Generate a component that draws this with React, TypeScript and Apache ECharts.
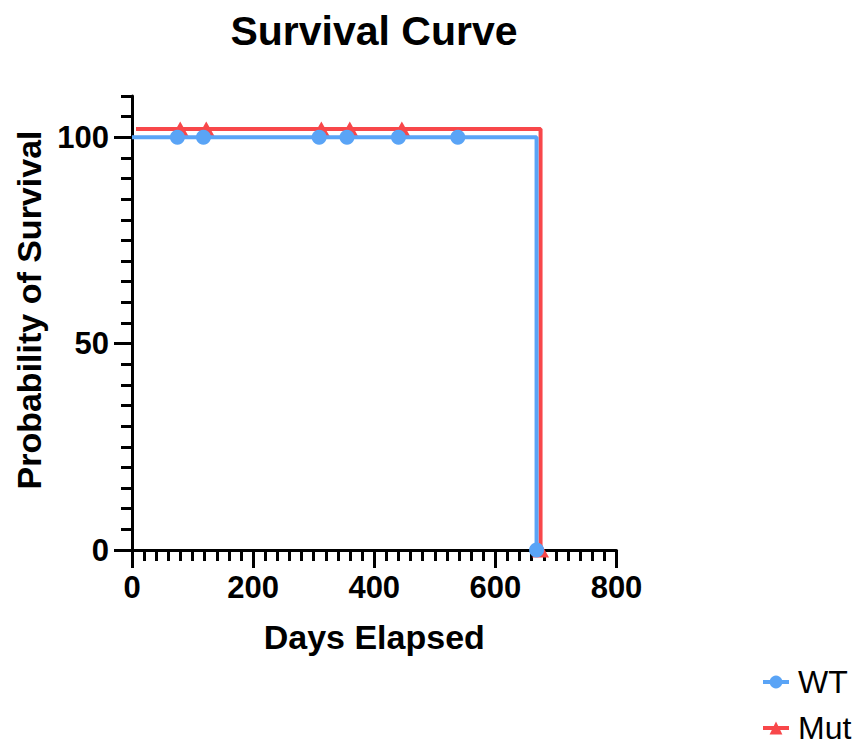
import React, { useEffect, useRef } from "react";
import * as echarts from "echarts";

const title = "Survival Curve";
const xName = "Days Elapsed";
const yName = "Probability of Survival";
const seriesNames = ["WT", "Mut"];

// WT: days with censor marks at 100%, then drop to 0 at last day
const wtCensorDays = [75, 118, 309, 355, 440, 538];
const wtEventDay = 668;
// Mut: censor marks (drawn with Prism-style offset)
const mutCensorDays = [73, 116, 306, 353, 439];
const mutEventDay = 668;

const startSurvival = 100;
const endSurvival = 0;

const xTicks = [0, 200, 400, 600, 800];
const yTickLabels = [0, 50, 100];
const yMax = 110;

const FONT = "'Liberation Sans', Arial, Helvetica, sans-serif";
const BLUE = "#5aa4f6";
const RED = "#f8474a";

function buildCurve(censor: number[], eventDay: number) {
  const pts: any[] = [{ value: [0, startSurvival], symbol: "none" }];
  censor.forEach((d) => pts.push({ value: [d, startSurvival] }));
  pts.push({ value: [eventDay, endSurvival] });
  return pts;
}

export default function App() {
  const ref = useRef<HTMLDivElement>(null);
  useEffect(() => {
    if (!ref.current) return;
    const chart = echarts.init(ref.current, null, { renderer: "svg" });
    const axisLineStyle = { color: "#000", width: 3 };
    chart.setOption({
      animation: false,
      backgroundColor: "#fff",
      title: {
        text: title,
        left: 369,
        top: 5,
        textAlign: "center",
        textStyle: { fontFamily: FONT, fontWeight: "bold", fontSize: 41, color: "#000" },
      },
      legend: {
        orient: "vertical",
        left: 761,
        top: 666,
        height: 120,
        padding: 0,
        itemWidth: 26,
        itemHeight: 16,
        itemGap: 14,
        data: seriesNames,
        lineStyle: { width: 4 },
        textStyle: { fontFamily: FONT, fontSize: 32, lineHeight: 32, color: "#000", padding: [0, 0, 0, 4] },
      },
      grid: [
        { left: 132, right: 245.5, top: 96, bottom: 196 },
        { left: 136, right: 241.5, top: 87, bottom: 196 },
      ],
      xAxis: [
        {
          type: "value",
          gridIndex: 0,
          min: xTicks[0],
          max: xTicks[xTicks.length - 1],
          interval: 200,
          name: xName,
          nameLocation: "middle",
          nameGap: 70,
          nameTextStyle: { fontFamily: FONT, fontWeight: "bold", fontSize: 34, color: "#000" },
          axisLine: { show: true, lineStyle: axisLineStyle },
          axisTick: { show: true, length: 18, lineStyle: { color: "#000", width: 3 } },
          minorTick: { show: true, splitNumber: 10, length: 11, lineStyle: { color: "#000", width: 3 } },
          axisLabel: { margin: 22, fontFamily: FONT, fontWeight: "bold", fontSize: 31, color: "#000" },
          splitLine: { show: false },
          minorSplitLine: { show: false },
          z: 1,
        },
        { type: "value", gridIndex: 1, min: 0, max: 800, show: false },
      ],
      yAxis: [
        {
          type: "value",
          gridIndex: 0,
          min: 0,
          max: yMax,
          interval: 5,
          name: yName,
          nameLocation: "middle",
          nameGap: 76,
          nameRotate: 90,
          nameTextStyle: {
            fontFamily: FONT,
            fontWeight: "bold",
            fontSize: 34,
            color: "#000",
            padding: [0, 0, 0, 26],
          },
          axisLine: { show: true, lineStyle: axisLineStyle },
          axisTick: { show: true, length: 11, lineStyle: { color: "#000", width: 3 } },
          axisLabel: {
            customValues: yTickLabels,
            margin: 23,
            fontFamily: FONT,
            fontWeight: "bold",
            fontSize: 31,
            color: "#000",
          },
          splitLine: { show: false },
        },
        {
          type: "value",
          gridIndex: 0,
          position: "left",
          min: 0,
          max: yMax,
          interval: 50,
          axisLine: { show: false },
          axisTick: { show: true, customValues: yTickLabels, length: 18, lineStyle: { color: "#000", width: 3 } },
          axisLabel: { show: false },
          splitLine: { show: false },
        },
        { type: "value", gridIndex: 1, min: 0, max: yMax, show: false },
      ],
      series: [
        {
          name: seriesNames[1],
          type: "line",
          xAxisIndex: 1,
          yAxisIndex: 2,
          step: "end",
          data: buildCurve(mutCensorDays, mutEventDay),
          symbol: "triangle",
          symbolSize: [17, 15],
          showAllSymbol: true,
          clip: false,
          lineStyle: { color: RED, width: 4 },
          itemStyle: { color: RED },
          z: 3,
        },
        {
          name: seriesNames[0],
          type: "line",
          xAxisIndex: 0,
          yAxisIndex: 0,
          step: "end",
          data: buildCurve(wtCensorDays, wtEventDay),
          symbol: "circle",
          symbolSize: 15,
          showAllSymbol: true,
          clip: false,
          lineStyle: { color: BLUE, width: 4 },
          itemStyle: { color: BLUE },
          z: 4,
        },
      ],
    });
    return () => chart.dispose();
  }, []);
  return <div ref={ref} style={{ width: 862, height: 746, position: "absolute", left: 0, top: 0 }} />;
}
